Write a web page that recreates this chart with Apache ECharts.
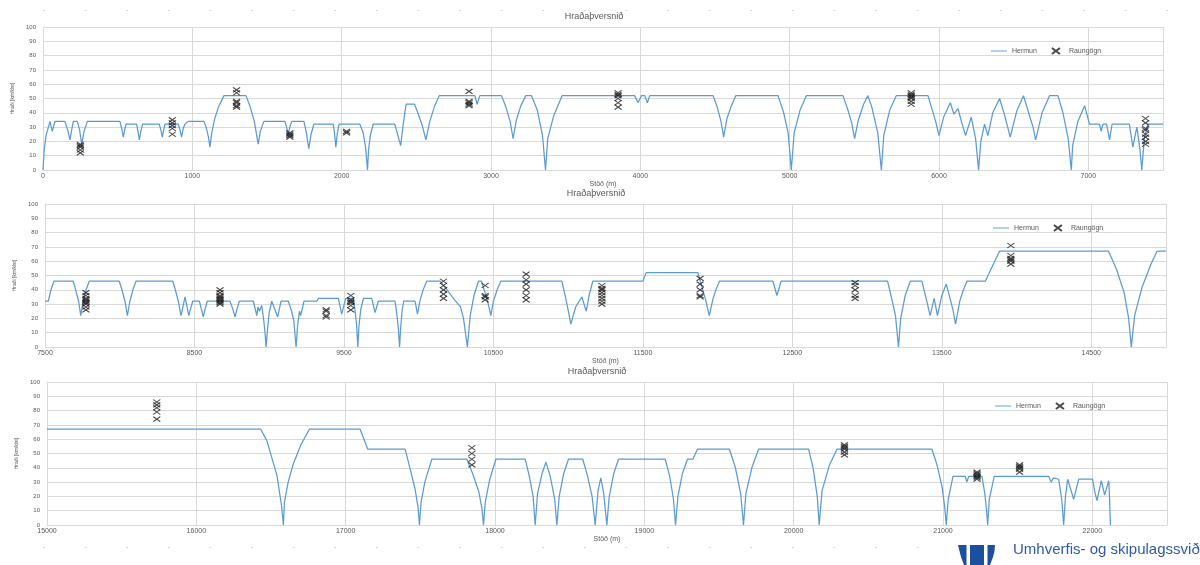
<!DOCTYPE html>
<html>
<head>
<meta charset="utf-8">
<title>Hraðaþversnið</title>
<script src="https://cdn.jsdelivr.net/npm/echarts@6/dist/echarts.min.js"></script>
<style>
  html, body { margin: 0; padding: 0; background: #ffffff; }
  #chart { width: 1200px; height: 565px; }
</style>
</head>
<body>
<div id="chart"></div>
<script>
// Station ranges (m) of the three speed-profile panels
const panelRanges = [[0, 7500], [7500, 15000], [15000, 22500]];
const speedTicks = { min: 0, max: 100, step: 10 };
const stationStep = 1000;

// Simulated speed profile (Hermun): [station m, speed km/klst]
const simulated1 = [
  [0,0],[8,14],[20,24],[47,34],[62,27],[80,34],[147,34],[165,28],[181,21],[192,28],[203,34],
  [230,34],[245,28],[259,18],[275,27],[297,34],[515,34],[527,29],[538,23],[547,28],[556,32],
  [627,32],[636,27],[645,21],[655,27],[667,32],[779,32],[789,28],[799,23],[808,28],[817,32],
  [906,32],[917,28],[928,23],[939,29],[950,32],[960,33],[973,34],[1078,34],[1095,29],[1108,23],
  [1118,16],[1130,26],[1150,36],[1175,44],[1212,52],[1359,52],[1385,45],[1415,34],[1441,18],
  [1455,27],[1479,34],[1620,34],[1631,30],[1642,25],[1653,30],[1665,34],[1747,34],[1762,27],
  [1780,15],[1795,25],[1814,32],[1943,32],[1952,26],[1961,16],[1970,25],[1983,32],[2122,32],
  [2144,26],[2160,16],[2173,0],[2180,14],[2192,24],[2211,32],[2356,32],[2372,26],[2395,17],
  [2410,30],[2420,38],[2432,46],[2488,46],[2510,40],[2540,31],[2564,21],[2590,34],[2620,44],
  [2653,52],[2892,52],[2907,46],[2925,52],[3070,52],[3100,44],[3128,34],[3148,22],[3170,35],
  [3200,45],[3233,52],[3271,52],[3310,42],[3345,24],[3365,0],[3380,22],[3420,38],[3476,52],
  [3962,52],[3985,47],[4007,52],[4030,52],[4047,47],[4063,52],[4487,52],[4515,44],[4540,34],
  [4558,23],[4580,36],[4610,45],[4639,52],[4922,52],[4960,40],[4990,26],[5011,0],[5030,26],
  [5070,42],[5112,52],[5357,52],[5390,42],[5415,33],[5435,22],[5460,35],[5495,46],[5524,52],
  [5550,44],[5590,26],[5614,0],[5630,24],[5670,42],[5714,52],[5926,52],[5955,42],[5980,33],
  [6000,24],[6031,37],[6076,47],[6100,39],[6127,43],[6150,34],[6178,24],[6216,37],[6245,22],
  [6265,0],[6280,20],[6305,32],[6327,24],[6360,40],[6406,50],[6440,38],[6477,23],[6520,41],
  [6566,52],[6600,40],[6630,30],[6647,21],[6690,40],[6740,52],[6796,52],[6830,40],[6865,22],
  [6886,0],[6895,17],[6930,34],[6975,45],[7008,32],[7075,32],[7086,27],[7097,32],[7122,32],
  [7142,21],[7159,32],[7275,32],[7298,16],[7325,30],[7345,15],[7358,0],[7375,22],[7398,32],
  [7500,32]
];
const simulated2 = [
  [7500,32],[7522,32],[7540,40],[7560,46],[7689,46],[7705,40],[7725,32],[7739,22],[7755,32],
  [7775,40],[7796,46],[7997,46],[8015,40],[8035,32],[8051,22],[8068,32],[8088,40],[8109,46],
  [8355,46],[8372,40],[8392,32],[8410,22],[8437,35],[8462,22],[8488,32],[8533,32],[8545,27],
  [8559,21],[8572,27],[8586,32],[8738,32],[8755,27],[8772,21],[8786,27],[8800,32],[8894,32],
  [8917,22],[8925,28],[8935,25],[8950,29],[8962,20],[8972,10],[8979,0],[8990,14],[9000,24],
  [9017,32],[9030,32],[9057,21],[9079,32],[9128,32],[9150,25],[9165,18],[9180,0],[9190,15],
  [9202,25],[9210,22],[9233,32],[9318,32],[9330,34],[9463,34],[9485,23],[9512,34],[9563,34],
  [9575,25],[9585,15],[9593,0],[9600,14],[9612,26],[9630,34],[9686,34],[9708,24],[9730,32],
  [9842,32],[9855,22],[9865,12],[9872,0],[9880,14],[9890,26],[9900,32],[9976,32],[9992,23],
  [10010,33],[10030,40],[10054,46],[10143,46],[10190,40],[10240,33],[10280,28],[10300,20],
  [10326,0],[10345,22],[10370,36],[10400,46],[10420,46],[10450,36],[10470,28],[10483,22],
  [10500,32],[10525,40],[10550,46],[10958,46],[10980,36],[11000,26],[11018,16],[11050,28],
  [11092,35],[11121,25],[11140,36],[11165,46],[11500,46],[11522,52],[11868,52],[11895,42],
  [11920,33],[11944,22],[11970,34],[11992,41],[12013,46],[12370,46],[12397,36],[12425,46],
  [13137,46],[13160,36],[13190,22],[13210,0],[13225,20],[13255,36],[13289,46],[13367,46],
  [13395,34],[13422,22],[13449,34],[13471,22],[13500,36],[13530,44],[13555,34],[13575,26],
  [13592,16],[13620,32],[13645,40],[13668,46],[13791,46],[13886,67],[14616,67],[14670,54],
  [14720,38],[14750,20],[14768,0],[14790,22],[14840,42],[14900,58],[14940,67],[15000,67]
];
const simulated3 = [
  [15000,67],[16431,67],[16472,59],[16539,35],[16570,14],[16583,0],[16590,16],[16615,30],
  [16650,43],[16700,56],[16757,67],[17097,67],[17148,53],[17398,53],[17430,40],[17465,25],
  [17485,12],[17494,0],[17505,16],[17530,30],[17577,46],[17811,46],[17850,36],[17890,24],
  [17912,12],[17923,0],[17935,16],[17965,32],[18006,46],[18202,46],[18230,34],[18255,20],
  [18269,0],[18285,22],[18315,36],[18341,44],[18370,34],[18400,18],[18414,0],[18430,20],
  [18460,36],[18492,46],[18588,46],[18620,34],[18650,20],[18671,0],[18690,24],[18709,33],
  [18728,22],[18749,0],[18765,20],[18795,36],[18827,46],[19140,46],[19170,34],[19195,18],
  [19209,0],[19225,20],[19255,36],[19289,46],[19325,46],[19356,53],[19570,53],[19610,40],
  [19645,22],[19664,0],[19680,22],[19720,40],[19765,53],[20100,53],[20130,40],[20158,20],
  [20171,0],[20190,24],[20240,42],[20290,53],[20926,53],[20960,42],[20995,26],[21012,12],
  [21022,0],[21035,18],[21067,34],[21149,34],[21160,30],[21172,34],[21261,34],[21280,22],
  [21292,10],[21299,0],[21310,18],[21343,34],[21708,34],[21724,30],[21740,33],[21775,32],
  [21795,18],[21808,0],[21820,20],[21835,32],[21875,18],[21909,32],[22002,32],[22015,24],
  [22031,17],[22060,31],[22082,21],[22110,31],[22115,20],[22121,0]
];

// Measured speeds (Raungögn): [station m, [speeds km/klst]]
const observed1 = [
  [250, [12, 14, 16, 17, 18]],
  [866, [25, 29, 31, 33, 35]],
  [1296, [44, 45, 47, 48, 54, 56]],
  [1653, [23, 24, 25, 26]],
  [2033, [26, 27]],
  [2853, [45, 46, 47, 48, 55]],
  [3851, [44, 47, 50, 52, 53, 54]],
  [5814, [46, 48, 50, 51, 52, 53, 54]],
  [7383, [18, 20, 23, 25, 28, 29, 33, 36]]
];
const observed2 = [
  [7774, [26, 28, 30, 31, 32, 33, 34, 36, 38]],
  [8671, [30, 31, 32, 33, 34, 35, 36, 38, 40]],
  [9381, [21, 22, 25, 26]],
  [9546, [26, 29, 31, 32, 33, 36]],
  [10166, [34, 37, 40, 43, 46]],
  [10445, [33, 35, 36, 43]],
  [10719, [33, 36, 40, 44, 47, 51]],
  [11226, [30, 32, 34, 36, 38, 40, 41, 43]],
  [11883, [35, 36, 40, 44, 48]],
  [12920, [34, 36, 40, 43, 45]],
  [13962, [58, 60, 61, 62, 64, 71]]
];
const observed3 = [
  [15735, [74, 79, 82, 84, 86]],
  [17845, [42, 46, 50, 54]],
  [20340, [49, 51, 53, 54, 55, 56]],
  [21228, [32, 33, 34, 35, 36, 37]],
  [21513, [37, 39, 40, 41, 42]]
];

const simulatedSets = [simulated1, simulated2, simulated3];
const observedSets = [observed1, observed2, observed3];

const TEXT = '#595959';
const GRID = '#d9d9d9';
const LINE = '#5b9bd5';
const FONT = 'Liberation Sans, Arial, sans-serif';
const CROSS = 'path://M0,0L8,6M8,0L0,6';
const LINE_ICON = 'path://M0,0H24V1.4H0Z';

// Plot areas (px) of the three stacked panels
const plotBoxes = [
  { left: 43, top: 27, width: 1120, height: 143 },
  { left: 45, top: 204, width: 1121, height: 143 },
  { left: 47, top: 382, width: 1120, height: 143 }
];
const titleCentres = [594, 596, 597];

function expandObserved(list) {
  const pts = [];
  list.forEach(([x, vals]) => vals.forEach(v => pts.push([x, v])));
  return pts;
}

const grids = plotBoxes.map(b => Object.assign({ containLabel: false }, b));

const xAxes = panelRanges.map((r, i) => ({
  type: 'value', gridIndex: i, min: r[0], max: r[1], interval: stationStep,
  name: 'Stöð (m)', nameLocation: 'middle', nameGap: 11,
  nameTextStyle: { color: TEXT, fontSize: 7, fontFamily: FONT },
  axisLine: { show: true, lineStyle: { color: GRID, width: 1 } },
  axisTick: { show: false },
  axisLabel: { color: TEXT, fontSize: 7, margin: 3, fontFamily: FONT, showMaxLabel: false,
    formatter: v => String(v) },
  splitLine: { show: true, lineStyle: { color: GRID, width: 1 } }
}));

const yAxes = panelRanges.map((r, i) => ({
  type: 'value', gridIndex: i, min: speedTicks.min, max: speedTicks.max, interval: speedTicks.step,
  name: 'Hraði [km/klst]', nameLocation: 'middle', nameRotate: 90, nameGap: 27,
  nameTextStyle: { color: TEXT, fontSize: 5, fontFamily: FONT },
  axisLine: { show: true, lineStyle: { color: GRID, width: 1 } },
  axisTick: { show: false },
  axisLabel: { color: TEXT, fontSize: 6, margin: 7, fontFamily: FONT },
  splitLine: { show: true, lineStyle: { color: GRID, width: 1 } }
}));

const series = [];
simulatedSets.forEach((data, i) => {
  series.push({
    name: 'Hermun', type: 'line', xAxisIndex: i, yAxisIndex: i,
    data: data, symbol: 'none', smooth: false,
    lineStyle: { color: LINE, width: 1.25 }, itemStyle: { color: LINE },
    z: 2
  });
});
observedSets.forEach((list, i) => {
  series.push({
    name: 'Raungögn', type: 'scatter', xAxisIndex: i, yAxisIndex: i,
    data: expandObserved(list), symbol: CROSS, symbolSize: [7, 5],
    itemStyle: { color: 'rgba(0,0,0,0)', borderColor: '#1a1a1a', borderWidth: 1.1 },
    z: 3
  });
});

const legends = plotBoxes.map((b, i) => ({
  left: 986 + i * 2, top: b.top + 15, itemWidth: 16, itemHeight: 6, itemGap: 14,
  textStyle: { color: TEXT, fontSize: 7, fontFamily: FONT },
  data: [
    { name: 'Hermun', icon: LINE_ICON, itemStyle: { color: LINE } },
    { name: 'Raungögn' }
  ]
}));

// Panel titles, faint slide dot rows and the department signature
const graphics = [];
plotBoxes.forEach((b, i) => {
  graphics.push({
    type: 'text', x: titleCentres[i], y: b.top - 15, silent: true,
    style: { text: 'Hraðaþversnið', fill: TEXT, font: '9px ' + FONT, textAlign: 'center' }
  });
});
for (let k = 0; k < 28; k++) {
  graphics.push({ type: 'rect', silent: true, shape: { x: 43 + k * 41.6, y: 10, width: 2, height: 1 },
    style: { fill: '#d6d6d6' } });
}
for (let k = 0; k < 22; k++) {
  graphics.push({ type: 'rect', silent: true, shape: { x: 43 + k * 41.6, y: 547, width: 2, height: 1 },
    style: { fill: '#d6d6d6' } });
}
graphics.push({
  type: 'polygon', silent: true,
  shape: { points: [[958,545],[995,545],[994.5,551],[993,557],[990,565],[964,565],[961,557],[959.5,551]] },
  style: { fill: '#1b4fa0' }
});
graphics.push({ type: 'rect', silent: true, shape: { x: 966.5, y: 545, width: 3.5, height: 20 }, style: { fill: '#ffffff' } });
graphics.push({ type: 'rect', silent: true, shape: { x: 984, y: 545, width: 3.5, height: 20 }, style: { fill: '#ffffff' } });
graphics.push({
  type: 'text', x: 1013, y: 542, silent: true,
  style: { text: 'Umhverfis- og skipulagssvið', fill: '#2f5ba6', font: '15px ' + FONT }
});

const chart = echarts.init(document.getElementById('chart'), null, { renderer: 'canvas' });
chart.setOption({
  animation: false,
  backgroundColor: '#ffffff',
  grid: grids,
  xAxis: xAxes,
  yAxis: yAxes,
  legend: legends,
  series: series,
  graphic: graphics
});
</script>
</body>
</html>
